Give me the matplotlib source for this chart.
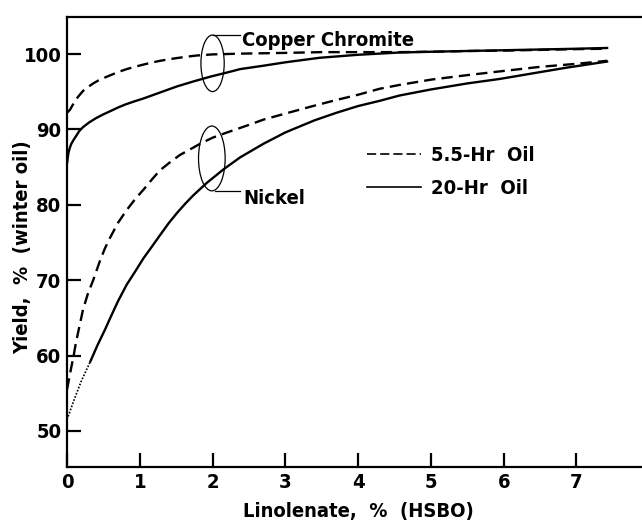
import numpy as np
import matplotlib
matplotlib.use('Agg')
import matplotlib.pyplot as plt
from matplotlib.patches import Ellipse
from matplotlib.lines import Line2D

plt.rcParams['font.family'] = ['DejaVu Sans']
plt.rcParams['font.stretch'] = 'condensed'
plt.rcParams['font.weight'] = 'bold'
plt.rcParams['axes.labelweight'] = 'bold'

# Copper chromite catalyst
cu_55_x = [0, 0.04, 0.1, 0.15, 0.22, 0.3, 0.36, 0.45, 0.6, 0.7, 0.82, 0.95, 1.05, 1.18, 1.28, 1.4, 1.5,
           1.65, 1.78, 2.0, 2.2, 2.38, 2.7, 3.0, 3.5, 4.0, 4.57, 5.0, 5.5, 6.0, 6.5, 7.0, 7.42]
cu_55_y = [92.2, 92.6, 93.6, 94.3, 95.1, 95.7, 96.1, 96.6, 97.2, 97.6, 98.0, 98.35, 98.6, 98.9, 99.1, 99.3, 99.45,
           99.65, 99.8, 99.95, 100.0, 100.05, 100.1, 100.15, 100.25, 100.25, 100.25, 100.3, 100.4, 100.45, 100.55, 100.65, 100.7]

cu_20_x = [0, 0.01, 0.02, 0.04, 0.06, 0.09, 0.13, 0.17, 0.22, 0.3, 0.4, 0.5, 0.59, 0.7, 0.8, 0.92, 1.05, 1.28,
           1.51, 1.75, 1.97, 2.2, 2.38, 2.7, 3.0, 3.47, 4.0, 4.57, 5.0, 5.5, 6.0, 6.5, 7.0, 7.42]
cu_20_y = [85.5, 86.2, 86.9, 87.6, 88.1, 88.6, 89.2, 89.8, 90.3, 90.9, 91.5, 92.0, 92.4, 92.9, 93.3, 93.7, 94.1, 94.9,
           95.7, 96.4, 97.0, 97.55, 98.0, 98.45, 98.9, 99.5, 99.9, 100.2, 100.3, 100.4, 100.5, 100.6, 100.7, 100.8]

# Nickel catalyst
ni_55_x = [0, 0.03, 0.06, 0.09, 0.12, 0.16, 0.22, 0.29, 0.36, 0.45, 0.52, 0.59, 0.7, 0.82, 0.94, 1.05, 1.17, 1.28,
           1.41, 1.55, 1.7, 1.83, 2.0, 2.2, 2.47, 2.7, 3.0, 3.38, 3.7, 4.0, 4.3, 4.57, 5.0, 5.5, 5.95, 6.5, 7.0, 7.42]
ni_55_y = [55.5, 57.0, 58.5, 59.9, 61.6, 63.4, 66.1, 68.3, 70.0, 72.5, 74.2, 75.6, 77.6, 79.3, 80.8, 82.0, 83.4, 84.6,
           85.6, 86.6, 87.4, 88.1, 88.9, 89.6, 90.5, 91.3, 92.1, 93.1, 93.9, 94.6, 95.4, 95.9, 96.6, 97.2, 97.7, 98.3, 98.7, 99.1]

ni_20_x = [0, 0.1, 0.2, 0.32, 0.42, 0.52, 0.59, 0.7, 0.82, 0.94, 1.05, 1.17, 1.28, 1.4, 1.51, 1.62, 1.74, 1.92,
           2.15, 2.38, 2.7, 3.0, 3.4, 3.7, 4.0, 4.3, 4.57, 5.0, 5.5, 5.95, 6.5, 6.87, 7.42]
ni_20_y = [51.5, 54.2, 56.7, 59.2, 61.4, 63.4, 64.9, 67.2, 69.4, 71.2, 72.9, 74.5, 76.0, 77.6, 78.9, 80.1, 81.3, 82.9,
           84.7, 86.3, 88.1, 89.6, 91.2, 92.2, 93.1, 93.8, 94.5, 95.3, 96.1, 96.7, 97.6, 98.2, 99.0]
ni_20_dotted_end = 0.32  # extrapolated part drawn dotted

x_ticks = [0, 1, 2, 3, 4, 5, 6, 7]
y_ticks = [50, 60, 70, 80, 90, 100]

FS = 14.5
DASH = (4.8, 2.6)

fig = plt.figure(figsize=(6.42, 5.23), dpi=100)
ax = fig.add_axes([67 / 642, 1 - 467 / 523, 575 / 642, 450 / 523])

ax.plot(cu_55_x, cu_55_y, color='black', lw=1.7, dashes=DASH)
ax.plot(cu_20_x, cu_20_y, color='black', lw=1.7)
ax.plot(ni_55_x, ni_55_y, color='black', lw=1.7, dashes=DASH)

ni_x = np.array(ni_20_x)
ni_y = np.array(ni_20_y)
dot = ni_x <= ni_20_dotted_end
ax.plot(ni_x[dot], ni_y[dot], color='black', lw=1.2, linestyle=(0, (1, 1)))
sol = ni_x >= ni_20_dotted_end
ax.plot(ni_x[sol], ni_y[sol], color='black', lw=1.7)

# group ellipses with leader lines
ax.add_patch(Ellipse((2.0, 98.77), 0.32, 7.5, fill=False, lw=0.9, color='black'))
ax.plot([2.01, 2.38], [102.52, 102.52], color='black', lw=0.9)
ax.text(2.40, 101.0, 'Copper Chromite', fontsize=FS, ha='left', va='baseline')

ax.add_patch(Ellipse((1.99, 86.15), 0.366, 8.6, fill=False, lw=0.9, color='black'))
ax.plot([2.03, 2.38], [81.85, 81.85], color='black', lw=0.9)
ax.text(2.42, 80.17, 'Nickel', fontsize=FS, ha='left', va='baseline')

handles = [Line2D([], [], color='black', lw=1.2, dashes=(5.5, 2.4)),
           Line2D([], [], color='black', lw=1.2)]
ax.legend(handles, ['5.5-Hr  Oil', '20-Hr  Oil'], loc='upper left',
          bbox_to_anchor=(0.521, 0.713), frameon=False, fontsize=FS,
          handlelength=2.7, handletextpad=0.5, labelspacing=0.67,
          borderpad=0, borderaxespad=0)

ax.set_xlim(0, 7.9)
ax.set_ylim(45.22, 104.91)
ax.set_xticks(x_ticks)
ax.set_yticks(y_ticks)
ax.tick_params(direction='in', length=10, width=1.6, labelsize=FS, pad=4)
ax.spines['right'].set_visible(False)
for s in ['left', 'bottom', 'top']:
    ax.spines[s].set_linewidth(1.6)

ax.set_xlabel('Linolenate,  %  (HSBO)', fontsize=FS, va='center')
ax.set_ylabel('Yield,  %  (winter oil)', fontsize=FS, va='center')
ax.xaxis.set_label_coords(0.506, -0.098)
ax.yaxis.set_label_coords(-0.0765, 0.489)

fig.savefig('out.png', dpi=100)
